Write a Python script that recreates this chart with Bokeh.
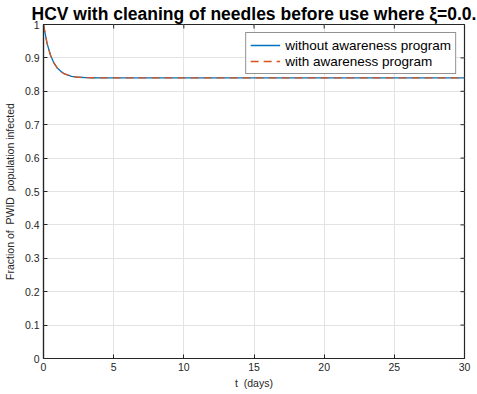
import math
from bokeh.plotting import figure
from bokeh.models import Range1d, FixedTicker, Legend, LegendItem, Title
from bokeh.embed import file_html
from bokeh.resources import INLINE

# Time (days) and fraction of PWID population infected
t_days = [0, 0.25, 0.5, 0.75, 1.0, 1.25, 1.5, 2.0, 2.5, 3.0, 3.5, 4.0, 5.0,
          6.0, 8.0, 10.0, 15.0, 20.0, 25.0, 30.0]
infected_without = [1.0, 0.944, 0.908, 0.884, 0.869, 0.859, 0.852, 0.845,
                    0.842, 0.841, 0.8405, 0.840, 0.840, 0.840, 0.840, 0.840,
                    0.840, 0.840, 0.840, 0.840]
infected_with = [1.0, 0.944, 0.908, 0.884, 0.869, 0.859, 0.852, 0.845,
                 0.842, 0.841, 0.8405, 0.840, 0.840, 0.840, 0.840, 0.840,
                 0.840, 0.840, 0.840, 0.840]
x_ticks = [0, 5, 10, 15, 20, 25, 30]
y_ticks = [0, 0.1, 0.2, 0.3, 0.4, 0.5, 0.6, 0.7, 0.8, 0.9, 1.0]
x_min, x_max = 0, 30
y_min, y_max = 0, 1

AX = "#262626"
FONT = "Liberation Sans"

p = figure(width=477, height=394, output_backend="svg", toolbar_location=None,
           x_range=Range1d(x_min, x_max), y_range=Range1d(y_min, y_max),
           min_border_left=10, min_border_right=13, min_border_top=0,
           min_border_bottom=36)

p.title = Title(text="HCV with cleaning of needles before use where \u03be=0.0.",
                align="center", text_font=FONT, text_font_size="17.5px",
                text_font_style="bold", text_color="#000000", standoff=2,
                offset=16)
p.outline_line_color = AX
p.outline_line_width = 1.2
p.background_fill_color = "white"

for ax in (p.xaxis[0], p.yaxis[0]):
    ax.axis_line_color = AX
    ax.axis_line_width = 1.2
    ax.major_tick_line_color = AX
    ax.major_tick_in = 4
    ax.major_tick_out = 0
    ax.minor_tick_line_color = None
    ax.major_label_text_font = FONT
    ax.major_label_text_font_size = "10.5px"
    ax.major_label_text_color = AX
    ax.axis_label_text_font = FONT
    ax.axis_label_text_font_size = "10.5px"
    ax.axis_label_text_font_style = "normal"
    ax.axis_label_text_color = AX

p.xaxis.ticker = FixedTicker(ticks=x_ticks)
p.yaxis.ticker = FixedTicker(ticks=y_ticks)
p.xaxis.axis_label = "t\u00a0\u00a0(days)"
p.yaxis.axis_label = "Fraction of\u00a0\u00a0PWID\u00a0\u00a0population infected"
p.xaxis.major_label_standoff = 4
p.yaxis.major_label_standoff = 4
p.xaxis.axis_label_standoff = 3
p.yaxis.axis_label_standoff = 6

p.xgrid.ticker = FixedTicker(ticks=x_ticks)
p.ygrid.ticker = FixedTicker(ticks=y_ticks)
p.xgrid.grid_line_color = "#e3e3e3"
p.ygrid.grid_line_color = "#e3e3e3"

# inward tick marks along the top and right edges of the box
p.scatter(x=x_ticks, y=[y_max] * len(x_ticks), marker="dash", angle=math.pi / 2,
          size=8, line_color=AX, line_width=1)
p.scatter(x=[x_max] * len(y_ticks), y=y_ticks, marker="dash", size=8,
          line_color=AX, line_width=1)

r1 = p.line(t_days, infected_without, line_color="#0072BD", line_width=1.3)
r2 = p.line(t_days, infected_with, line_color="#D95319", line_width=1.3,
            line_dash="8 5")

legend = Legend(items=[LegendItem(label="without awareness program", renderers=[r1]),
                       LegendItem(label="with awareness program", renderers=[r2])],
                location="top_right", label_text_font=FONT,
                label_text_font_size="13.5px", label_text_color="#000000",
                border_line_color=AX, border_line_width=1,
                background_fill_alpha=1.0, glyph_width=30, glyph_height=16,
                label_height=16, spacing=0, padding=4, margin=8,
                label_standoff=5)
p.add_layout(legend, "center")

open("out.html", "w").write(file_html(p, INLINE))
